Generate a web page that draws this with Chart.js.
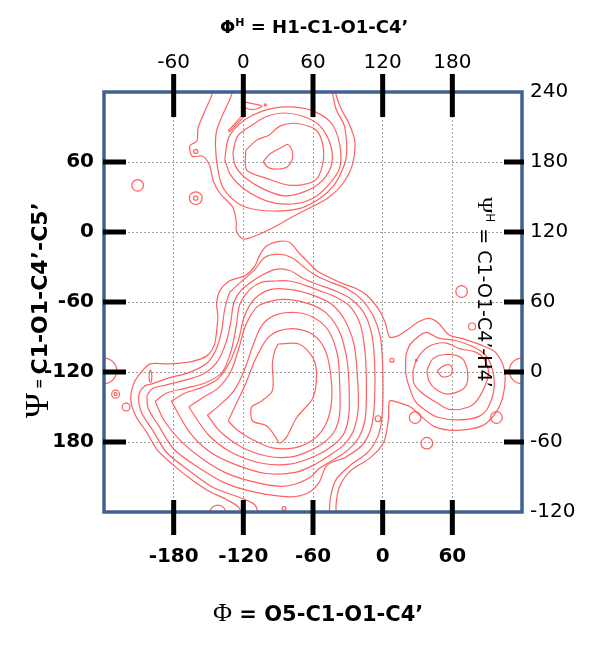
<!DOCTYPE html>
<html>
<head>
<meta charset="utf-8">
<script src="https://cdn.jsdelivr.net/npm/chart.js@4.4.1/dist/chart.umd.min.js"></script>
<style>
  html, body { margin: 0; padding: 0; background: #fff; }
  canvas { display: block; }
</style>
</head>
<body>
<canvas id="phiPsiMap" width="614" height="653"></canvas>
<script>
// axis ticks (degrees)
const phiTicks = [-180, -120, -60, 0, 60];
const psiTicks = [60, 0, -60, -120, -180];
const psiHTicks = [120, 60, 0, -60, -120, -180, -240];
const hOffset = 120; // PhiH = Phi + 120, PsiH = Psi + 120

// contour lines, [phi, psi] in degrees
// upper island (psi ~ 60)
const up1 = [[-103,60],[-97,67],[-88,72],[-82,75],[-78,70],[-78,62],[-82,56],[-90,54],[-98,55],[-103,60]];
const up2 = [[-118,70],[-108,79],[-98,83],[-88,91],[-74,93],[-57,87],[-51,71],[-53,53],[-60,43],[-80,40],[-100,46],[-117,53],[-118,70]];
const up3 = [[-129,68],[-125,82],[-112,92],[-100,99],[-85,102],[-68,99],[-54,91],[-45,75],[-44,58],[-52,44],[-66,35],[-85,31],[-103,37],[-119,47],[-127,57],[-129,68]];
const up4 = [[-136,62],[-133,80],[-124,92],[-112,100],[-95,106],[-75,107],[-58,103],[-44,93],[-37,75],[-37,55],[-47,40],[-60,29],[-78,24],[-98,26],[-118,36],[-131,49],[-136,62]];
const up5 = [[-130,125],[-130,118],[-138,100],[-143,87],[-144,74],[-142,54],[-138,39],[-129,28],[-117,21],[-95,18],[-72,20],[-54,29],[-42,40],[-34,55],[-31,68],[-33,91],[-40,105],[-43,118],[-44,125]];
const up6 = [[-147,125],[-147,118],[-153,104],[-159,89],[-160,78],[-166,74],[-164,65],[-155,65],[-149,57],[-146,44],[-140,33],[-129,21],[-126,8],[-126,1],[-120,-6],[-109,-3],[-92,5],[-74,15],[-60,22],[-46,30],[-34,42],[-26,58],[-24,78],[-29,93],[-35,104],[-40,117],[-41,125]];
const upLeaf = [[-121,112],[-112,110],[-104,108],[-111,105],[-119,107],[-121,112]];
const upSlit = [[-133,87],[-127,93],[-120,101],[-119,100],[-126,92],[-132,86],[-133,87]];

// lower island (psi ~ -130)
const lo1 = [[-90,-96],[-72,-96],[-60,-108],[-57,-122],[-60,-142],[-74,-159],[-83,-176],[-89,-181],[-92,-176],[-100,-166],[-112,-162],[-113,-150],[-106,-146],[-95,-136],[-95,-113],[-93,-102],[-90,-96]];
const lo2 = [[-133,-162],[-126,-147],[-118,-130],[-110,-110],[-100,-92],[-90,-85],[-75,-83],[-60,-88],[-50,-100],[-45,-120],[-44,-145],[-49,-165],[-60,-178],[-76,-185],[-95,-185],[-112,-178],[-125,-170],[-133,-162]];
const lo3 = [[-151,-157],[-140,-148],[-128,-136],[-119,-118],[-112,-98],[-104,-80],[-92,-71],[-75,-69],[-60,-73],[-47,-84],[-39,-105],[-37,-130],[-37,-155],[-41,-170],[-50,-180],[-64,-188],[-80,-193],[-100,-192],[-122,-184],[-140,-171],[-151,-157]];
const lo4 = [[-167,-150],[-155,-142],[-142,-134],[-131,-120],[-124,-100],[-118,-80],[-108,-64],[-95,-59],[-80,-58],[-62,-62],[-48,-70],[-37,-86],[-31,-108],[-29,-130],[-29,-155],[-33,-172],[-43,-183],[-58,-192],[-80,-199],[-105,-198],[-130,-189],[-150,-174],[-167,-150]];
const lo5 = [[-182,-145],[-170,-138],[-155,-133],[-142,-126],[-132,-112],[-124,-92],[-119,-72],[-110,-57],[-95,-49],[-75,-50],[-58,-55],[-44,-62],[-33,-75],[-25,-95],[-22,-120],[-21,-150],[-25,-170],[-33,-182],[-45,-191],[-58,-199],[-75,-206],[-100,-207],[-125,-200],[-148,-189],[-166,-172],[-182,-145]];
const lo6 = [[-196,-145],[-186,-138],[-170,-134],[-152,-129],[-138,-120],[-130,-100],[-126,-80],[-123,-62],[-114,-49],[-104,-43],[-92,-42],[-80,-42],[-66,-46],[-55,-50],[-40,-56],[-28,-64],[-19,-80],[-15,-105],[-14,-135],[-15,-160],[-20,-175],[-30,-187],[-42,-195],[-55,-203],[-62,-210],[-75,-216],[-88,-218],[-112,-214],[-136,-206],[-156,-194],[-174,-179],[-188,-162],[-196,-145]];
const lo7 = [[-203,-140],[-198,-134],[-186,-131],[-170,-127],[-155,-122],[-143,-112],[-135,-95],[-131,-78],[-128,-60],[-122,-50],[-112,-42],[-104,-37],[-92,-32],[-80,-33],[-68,-40],[-56,-45],[-42,-50],[-28,-57],[-17,-68],[-10,-85],[-7,-110],[-7,-145],[-10,-168],[-18,-183],[-32,-193],[-48,-200],[-55,-215],[-65,-224],[-80,-227],[-110,-223],[-136,-215],[-160,-201],[-180,-186],[-193,-166],[-202,-151],[-203,-140]];
const lo8 = [[-106,-245],[-110,-234],[-122,-228],[-146,-219],[-166,-205],[-186,-189],[-198,-170],[-208,-154],[-210,-140],[-205,-132],[-198,-130],[-184,-125],[-168,-121],[-152,-113],[-144,-102],[-139,-86],[-136,-66],[-132,-52],[-130,-50],[-120,-41],[-110,-32],[-102,-22],[-90,-19],[-78,-22],[-68,-30],[-58,-37],[-45,-43],[-30,-49],[-18,-58],[-8,-72],[-2,-90],[0,-115],[0,-150],[-3,-172],[-12,-188],[-28,-200],[-40,-212],[-45,-228],[-46,-245]];
const lo9 = [[-120,-245],[-124,-236],[-135,-229],[-150,-222],[-165,-212],[-180,-200],[-194,-187],[-203,-172],[-213,-157],[-217,-143],[-214,-129],[-207,-119],[-200,-113],[-186,-113],[-170,-112],[-157,-109],[-150,-105],[-145,-97],[-143,-85],[-142,-72],[-143,-61],[-140,-50],[-132,-42],[-118,-37],[-110,-29],[-106,-20],[-100,-12],[-89,-8],[-80,-9],[-72,-18],[-63,-27],[-57,-33],[-48,-38],[-35,-44],[-24,-48],[-14,-54],[-5,-64],[2,-77],[6,-90],[13,-89],[21,-84],[31,-77],[40,-74],[48,-78],[57,-88],[71,-92],[85,-97],[97,-103],[105,-119],[104,-139],[98,-154],[86,-166],[63,-170],[45,-167],[33,-158],[24,-150],[13,-146],[6,-145],[5,-160],[1,-180],[-10,-193],[-28,-205],[-37,-218],[-40,-232],[-40,-245]];
const loOval = [[-200,-118],[-199,-121],[-199,-127],[-200,-129],[-201,-127],[-201,-121],[-200,-118]];

// right island (phi ~ 55, psi ~ -120)
const rt1 = [[47,-119],[52,-115],[58,-114],[60,-118],[58,-123],[51,-124],[47,-119]];
const rt2 = [[38,-119],[43,-109],[54,-105],[68,-108],[73,-119],[71,-133],[57,-139],[46,-135],[40,-128],[38,-119]];
const rt3 = [[26,-119],[30,-108],[40,-98],[54,-95],[66,-100],[80,-103],[88,-110],[91,-122],[83,-142],[74,-150],[57,-152],[46,-146],[34,-138],[27,-130],[26,-119]];
const rt4 = [[20,-105],[24,-96],[37,-86],[48,-91],[63,-93],[77,-98],[88,-105],[94,-116],[96,-133],[91,-150],[83,-158],[66,-161],[48,-159],[37,-153],[28,-145],[23,-133],[20,-122],[20,-105]];

// isolated small rings: centre phi, centre psi, radius (degrees)
const ringPhi = [-211, -161, -161, -161, -101, 68, 28, 98, 38, 8, 29, -4, 77, -230, -230, -221, -240, 120, -142, -85];
const ringPsi = [40, 29, 29, 69, 109, -51, -159, -159, -181, -110, -110, -160, -81, -139, -139, -150, -119, -119, -241, -237];
const ringRad = [5, 5.5, 1.8, 1.8, 0.9, 5, 5, 5, 5, 1.7, 0.9, 2.5, 3, 3.4, 1.3, 3.4, 11, 11, 7, 1.7];

const contours = [up1, up2, up3, up4, up5, up6, upLeaf, upSlit,
  lo1, lo2, lo3, lo4, lo5, lo6, lo7, lo8, lo9, loOval, rt1, rt2, rt3, rt4];

const lineRed = 'rgba(255, 80, 80, 0.9)';
const frameBlue = '#41618e';
const textFont = '"DejaVu Sans"';
const symbolFont = '"Liberation Serif"';

const datasets = contours.map(c => ({
  data: c.map(p => ({ x: p[0], y: p[1] })),
  showLine: true,
  borderColor: lineRed,
  borderWidth: 1.2,
  pointRadius: 0,
  tension: 0.3,
  fill: false,
  clip: 0
}));

datasets.push({
  data: ringPhi.map((x, i) => ({ x: x, y: ringPsi[i], r: ringRad[i] })),
  showLine: false,
  pointStyle: 'circle',
  pointBackgroundColor: 'rgba(0,0,0,0)',
  pointBorderColor: lineRed,
  pointBorderWidth: 1.2,
  pointRadius: ctx => {
    if (!ctx.raw) return 0;
    const s = ctx.chart.scales.x;
    return Math.abs(s.getPixelForValue(ctx.raw.r) - s.getPixelForValue(0));
  },
  clip: 0
});

function drawRuns(ctx, runs, x, y) {
  runs.forEach(r => {
    ctx.font = r.font;
    ctx.fillText(r.text, x, y + (r.dy || 0));
    x += ctx.measureText(r.text).width;
  });
}
function runsWidth(ctx, runs) {
  let w = 0;
  runs.forEach(r => { ctx.font = r.font; w += ctx.measureText(r.text).width; });
  return w;
}

const decorations = {
  id: 'decorations',
  afterDatasetsDraw(chart) {
    const { ctx, chartArea: a, scales } = chart;
    ctx.save();
    // frame
    ctx.strokeStyle = frameBlue;
    ctx.lineWidth = 3.5;
    ctx.strokeRect(a.left, a.top, a.right - a.left, a.bottom - a.top);
    // thick tick bars
    ctx.fillStyle = '#000';
    phiTicks.forEach(v => {
      const px = scales.x.getPixelForValue(v);
      ctx.fillRect(px - 2.5, a.top - 18, 5, 43);
      ctx.fillRect(px - 2.5, a.bottom - 12, 5, 35);
    });
    psiTicks.forEach(v => {
      const py = scales.y.getPixelForValue(v);
      ctx.fillRect(a.left - 1, py - 2.5, 23, 5);
      ctx.fillRect(a.right - 18, py - 2.5, 20, 5);
    });
    ctx.restore();
  },
  afterDraw(chart) {
    const { ctx } = chart;
    ctx.save();
    ctx.fillStyle = '#000';
    ctx.textAlign = 'left';
    ctx.textBaseline = 'alphabetic';

    // top title
    drawRuns(ctx, [
      { text: 'Φ', font: 'bold 18px ' + textFont },
      { text: 'H', font: 'bold 11px ' + textFont, dy: -7 },
      { text: ' = H1-C1-O1-C4’', font: 'bold 18px ' + textFont }
    ], 220, 33);

    // bottom title
    drawRuns(ctx, [
      { text: 'Φ', font: '26px ' + symbolFont },
      { text: ' = O5-C1-O1-C4’', font: 'bold 21px ' + textFont }
    ], 213, 621);

    // left title, reading upwards
    ctx.save();
    ctx.translate(48, 418);
    ctx.rotate(-Math.PI / 2);
    drawRuns(ctx, [
      { text: 'Ψ', font: '34px ' + symbolFont },
      { text: ' = ', font: 'bold 12px ' + textFont, dy: -5 },
      { text: 'C1-O1-C4’-C5’', font: 'bold 22px ' + textFont, dy: -1 }
    ], 0, 0);
    ctx.restore();

    // right title, reading downwards, inside the frame
    ctx.save();
    ctx.translate(478, 197);
    ctx.rotate(Math.PI / 2);
    drawRuns(ctx, [
      { text: 'Ψ', font: '22px ' + symbolFont },
      { text: 'H', font: '12px ' + textFont, dy: -8 },
      { text: ' = C1-O1-C4’-H4’', font: '19px ' + textFont }
    ], 0, 0);
    ctx.restore();

    ctx.restore();
  }
};

const gridGrey = '#a0a0a0';

new Chart(document.getElementById('phiPsiMap'), {
  type: 'scatter',
  data: { datasets: datasets },
  options: {
    responsive: false,
    animation: false,
    events: [],
    layout: { padding: 0 },
    plugins: { legend: { display: false }, tooltip: { enabled: false } },
    scales: {
      x: {
        type: 'linear', position: 'bottom', min: -240, max: 120,
        afterBuildTicks: s => { s.ticks = phiTicks.map(v => ({ value: v })); },
        afterFit: s => { s.height = 141; },
        ticks: { color: '#000', padding: 33, maxRotation: 0, autoSkip: false,
                 font: { family: 'DejaVu Sans', size: 20, weight: 'bold' } },
        grid: { color: gridGrey, lineWidth: 1, drawTicks: false },
        border: { display: false, dash: [2, 2] }
      },
      xTop: {
        type: 'linear', position: 'top', min: -240, max: 120,
        afterBuildTicks: s => { s.ticks = phiTicks.map(v => ({ value: v })); },
        afterFit: s => { s.height = 92; },
        ticks: { color: '#000', padding: 17, maxRotation: 0, autoSkip: false,
                 callback: v => v + hOffset,
                 font: { family: 'DejaVu Sans', size: 20 } },
        grid: { display: false, drawTicks: false },
        border: { display: false }
      },
      y: {
        type: 'linear', position: 'left', min: -240, max: 120,
        afterBuildTicks: s => { s.ticks = psiTicks.map(v => ({ value: v })); },
        afterFit: s => { s.width = 104; },
        ticks: { color: '#000', padding: 10, autoSkip: false,
                 callback: v => (v === -180 ? 180 : v),
                 font: { family: 'DejaVu Sans', size: 20, weight: 'bold' } },
        grid: { color: gridGrey, lineWidth: 1, drawTicks: false },
        border: { display: false, dash: [2, 2] }
      },
      yRight: {
        type: 'linear', position: 'right', min: -240, max: 120,
        afterBuildTicks: s => { s.ticks = psiHTicks.map(v => ({ value: v })); },
        afterFit: s => { s.width = 92; },
        ticks: { color: '#000', padding: 8, autoSkip: false,
                 callback: v => v + hOffset,
                 font: { family: 'DejaVu Sans', size: 20 } },
        grid: { display: false, drawTicks: false },
        border: { display: false }
      }
    }
  },
  plugins: [decorations]
});
</script>
</body>
</html>
